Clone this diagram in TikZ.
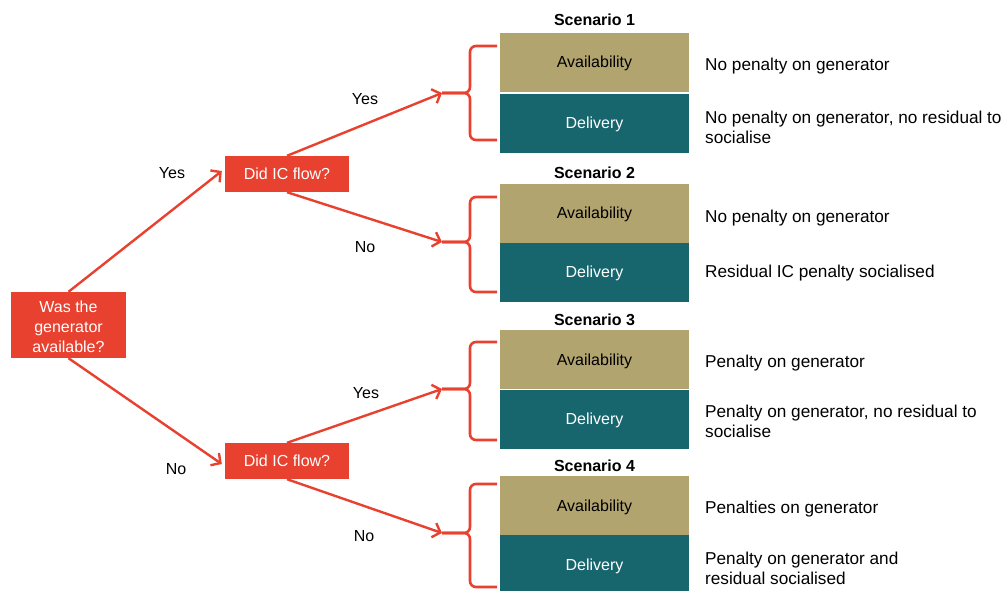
\documentclass[tikz,border=0pt]{standalone}
\usepackage{fontspec}
\setmainfont{Liberation Sans}
\usetikzlibrary{arrows.meta}
\definecolor{qred}{HTML}{E8412F}
\definecolor{avail}{HTML}{B2A46E}
\definecolor{deliv}{HTML}{17666E}
\tikzset{
  qbox/.style={fill=qred, text=white, inner sep=0pt, align=center, font=\fontsize{16}{20}\selectfont},
  availbox/.style={fill=avail, text=black, minimum width=189pt, minimum height=59pt, inner sep=0pt, text depth=0pt, font=\fontsize{16}{20}\selectfont},
  delivbox/.style={fill=deliv, text=white, minimum width=189pt, minimum height=59pt, inner sep=0pt, text depth=0pt, font=\fontsize{16}{20}\selectfont},
  scen/.style={font=\bfseries\fontsize{16}{18}\selectfont, inner sep=0pt},
  lbl/.style={font=\fontsize{16}{20}\selectfont, inner sep=0pt},
  desc/.style={font=\fontsize{17.2}{20}\selectfont, inner sep=0pt, anchor=west, align=left, yshift=-2pt},
  flow/.style={draw=qred, line width=2.4pt, -{Straight Barb[length=7pt,width=15pt,line width=2.4pt]}},
  brace/.style={draw=qred, line width=2.6pt, rounded corners=6pt},
}
\begin{document}
\begin{tikzpicture}[x=1pt,y=-1pt]
\useasboundingbox (0,0) rectangle (1002,590);
% question boxes
\node[qbox, minimum width=115pt, minimum height=66pt,
  label={[text=white, align=center, inner sep=0pt, font=\fontsize{16}{20}\selectfont, yshift=-2pt]center:Was the\\generator\\available?}] (q0) at (68.5,325) {};
\node[qbox, minimum width=124pt, minimum height=36pt] (q1) at (287,174) {Did IC flow?};
\node[qbox, minimum width=124pt, minimum height=36pt] (q2) at (287,461) {Did IC flow?};
% scenario boxes
\node[scen] (s1) at (594.5,20) {Scenario 1};
\node[availbox] (a1) at (594.5,62) {Availability};
\node[delivbox] (d1) at (594.5,123) {Delivery};
\node[scen] (s2) at (594.5,173) {Scenario 2};
\node[availbox] (a2) at (594.5,213) {Availability};
\node[delivbox] (d2) at (594.5,272) {Delivery};
\node[scen] (s3) at (594.5,320) {Scenario 3};
\node[availbox] (a3) at (594.5,359.5) {Availability};
\node[delivbox] (d3) at (594.5,419) {Delivery};
\node[scen] (s4) at (594.5,466) {Scenario 4};
\node[availbox] (a4) at (594.5,505.5) {Availability};
\node[delivbox] (d4) at (594.5,564.5) {Delivery};
% descriptions
\node[desc] (t1a) at (705,64) {No penalty on generator};
\node[desc] (t1b) at (705,125) {No penalty on generator, no residual to\\socialise};
\node[desc] (t2a) at (705,216) {No penalty on generator};
\node[desc] (t2b) at (705,271) {Residual IC penalty socialised};
\node[desc] (t3a) at (705,361) {Penalty on generator};
\node[desc] (t3b) at (705,419) {Penalty on generator, no residual to\\socialise};
\node[desc] (t4a) at (705,507) {Penalties on generator};
\node[desc] (t4b) at (705,566) {Penalty on generator and\\residual socialised};
% braces
\coordinate (tip1) at (442,93);
\coordinate (tip2) at (442,242);
\coordinate (tip3) at (442,389);
\coordinate (tip4) at (442,533);
\draw[brace] (497,46) -- (470,46) -- (470,93) -- (tip1);
\draw[brace] (497,140) -- (470,140) -- (470,93) -- (tip1);
\draw[brace] (497,197) -- (470,197) -- (470,242) -- (tip2);
\draw[brace] (497,292) -- (470,292) -- (470,242) -- (tip2);
\draw[brace] (497,342) -- (470,342) -- (470,389) -- (tip3);
\draw[brace] (497,440) -- (470,440) -- (470,389) -- (tip3);
\draw[brace] (497,484) -- (470,484) -- (470,533) -- (tip4);
\draw[brace] (497,587) -- (470,587) -- (470,533) -- (tip4);
% flows
\draw[flow] (q0.north) -- ([xshift=-3pt,yshift=3pt]q1.west);
\draw[flow] (q0.south) -- ([xshift=-3pt,yshift=-3pt]q2.west);
\draw[flow] (q1.north) -- (tip1);
\draw[flow] (q1.south) -- (tip2);
\draw[flow] (q2.north) -- (tip3);
\draw[flow] (q2.south) -- (tip4);
% labels
\node[lbl] (y0) at (172,173) {Yes};
\node[lbl] (n0) at (176,469) {No};
\node[lbl] (y1) at (365,99) {Yes};
\node[lbl] (n1) at (365,247) {No};
\node[lbl] (y2) at (366,393) {Yes};
\node[lbl] (n2) at (364,536) {No};
\end{tikzpicture}
\end{document}
